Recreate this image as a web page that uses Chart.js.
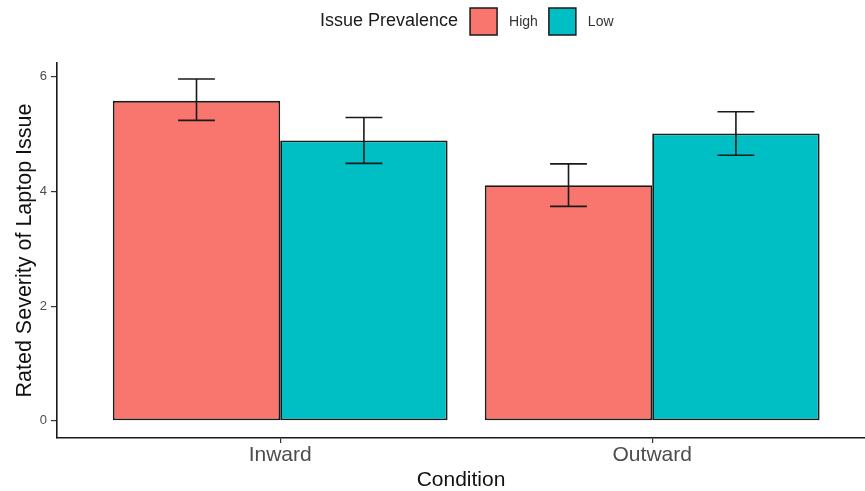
<!DOCTYPE html>
<html>
<head>
<meta charset="utf-8">
<title>Rated Severity of Laptop Issue</title>
<script src="https://cdn.jsdelivr.net/npm/chart.js@4.4.1/dist/chart.umd.min.js"></script>
<style>
    html, body { margin: 0; padding: 0; background: #ffffff; overflow: hidden; }
    #wrap { position: relative; width: 865px; height: 491px; }
</style>
</head>
<body>
<div id="wrap"><canvas id="severityChart"></canvas></div>
<script>
    "use strict";

    // du lieu doc tu hinh
    var categories = ['Inward', 'Outward'];
    var seriesLabels = ['High', 'Low'];
    var highMeans = [5.58, 4.11];
    var lowMeans = [4.89, 5.01];
    var highLower = [5.24, 3.74];
    var highUpper = [5.96, 4.48];
    var lowLower = [4.49, 4.63];
    var lowUpper = [5.29, 5.39];
    var yTicks = [0, 2, 4, 6];

    var FONT = "'Liberation Sans', Arial, Helvetica, sans-serif";
    var colors = ['#F8766D', '#00BFC4'];

    function toPoints(values) {
        return values.map(function (v, i) { return { x: i + 1, y: v }; });
    }

    // error bars drawn from the y scale
    var errorBars = {
        id: 'errorBars',
        afterDatasetsDraw: function (chart) {
            var ctx = chart.ctx;
            var yScale = chart.scales.y;
            ctx.save();
            ctx.strokeStyle = '#1a1a1a';
            ctx.lineWidth = 1.6;
            chart.data.datasets.forEach(function (ds, di) {
                var meta = chart.getDatasetMeta(di);
                meta.data.forEach(function (bar, i) {
                    var top = yScale.getPixelForValue(ds.upper[i]);
                    var bottom = yScale.getPixelForValue(ds.lower[i]);
                    var half = bar.width * 0.11;
                    ctx.beginPath();
                    ctx.moveTo(bar.x, top);
                    ctx.lineTo(bar.x, bottom);
                    ctx.moveTo(bar.x - half, top);
                    ctx.lineTo(bar.x + half, top);
                    ctx.moveTo(bar.x - half, bottom);
                    ctx.lineTo(bar.x + half, bottom);
                    ctx.stroke();
                });
            });
            ctx.restore();
        }
    };

    // legend on one line: title then keys
    var inlineLegend = {
        id: 'inlineLegend',
        afterDraw: function (chart) {
            var ctx = chart.ctx;
            var cy = 21.5;
            var x = 320;
            ctx.save();
            ctx.textBaseline = 'middle';
            ctx.textAlign = 'left';
            ctx.font = '18px ' + FONT;
            ctx.fillStyle = '#1a1a1a';
            ctx.fillText('Issue Prevalence', x, cy);
            x += ctx.measureText('Issue Prevalence').width + 12;
            ctx.font = '14px ' + FONT;
            chart.data.datasets.forEach(function (ds) {
                ctx.fillStyle = ds.backgroundColor;
                ctx.fillRect(x, cy - 13.5, 27, 27);
                ctx.strokeStyle = '#1a1a1a';
                ctx.lineWidth = 1.5;
                ctx.strokeRect(x, cy - 13.5, 27, 27);
                x += 27 + 12;
                ctx.fillStyle = '#333333';
                ctx.fillText(ds.label, x, cy + 1);
                x += ctx.measureText(ds.label).width + 11;
            });
            ctx.restore();
        }
    };

    var canvas = document.getElementById('severityChart');
    var ctx = canvas.getContext('2d');

    new Chart(ctx, {
        type: 'bar',
        data: {
            datasets: [{
                label: seriesLabels[0],
                data: toPoints(highMeans),
                lower: highLower,
                upper: highUpper,
                backgroundColor: colors[0],
                borderColor: '#1a1a1a',
                borderWidth: 1.8,
                borderSkipped: false
            }, {
                label: seriesLabels[1],
                data: toPoints(lowMeans),
                lower: lowLower,
                upper: lowUpper,
                backgroundColor: colors[1],
                borderColor: '#1a1a1a',
                borderWidth: 1.8,
                borderSkipped: false
            }]
        },
        options: {
            responsive: true,
            maintainAspectRatio: false,
            animation: false,
            layout: { padding: { top: 63, right: 0, left: 0, bottom: 0 } },
            categoryPercentage: 0.9,
            barPercentage: 1.0,
            plugins: {
                legend: { display: false },
                tooltip: { enabled: false }
            },
            scales: {
                x: {
                    type: 'linear',
                    offset: false,
                    min: 0.4,
                    max: 2.572,
                    afterBuildTicks: function (scale) {
                        scale.ticks = categories.map(function (c, i) { return { value: i + 1 }; });
                    },
                    afterFit: function (scale) { scale.height = 53; },
                    ticks: {
                        padding: 0,
                        color: '#4d4d4d',
                        font: { family: FONT, size: 21 },
                        callback: function (v) { return categories[v - 1]; }
                    },
                    grid: { offset: false, drawOnChartArea: false, drawTicks: true, tickLength: 5, color: '#333333', lineWidth: 1.2 },
                    border: { display: true, color: '#1a1a1a', width: 1.6 },
                    title: {
                        display: true,
                        text: 'Condition',
                        color: '#111111',
                        font: { family: FONT, size: 21, lineHeight: 1 },
                        padding: { top: 0, bottom: 0.5 }
                    }
                },
                y: {
                    min: -0.3,
                    max: 6.24,
                    afterBuildTicks: function (scale) {
                        scale.ticks = yTicks.map(function (v) { return { value: v }; });
                    },
                    afterFit: function (scale) { scale.width = 57; },
                    ticks: {
                        padding: 4,
                        color: '#4d4d4d',
                        font: { family: FONT, size: 13 }
                    },
                    grid: { drawOnChartArea: false, drawTicks: true, tickLength: 6, color: '#333333', lineWidth: 1.2 },
                    border: { display: true, color: '#1a1a1a', width: 1.6 },
                    title: {
                        display: true,
                        text: 'Rated Severity of Laptop Issue',
                        color: '#111111',
                        font: { family: FONT, size: 21.5, lineHeight: 1 },
                        padding: { top: 14, bottom: 0 }
                    }
                }
            }
        },
        plugins: [errorBars, inlineLegend]
    });
</script>
</body>
</html>
